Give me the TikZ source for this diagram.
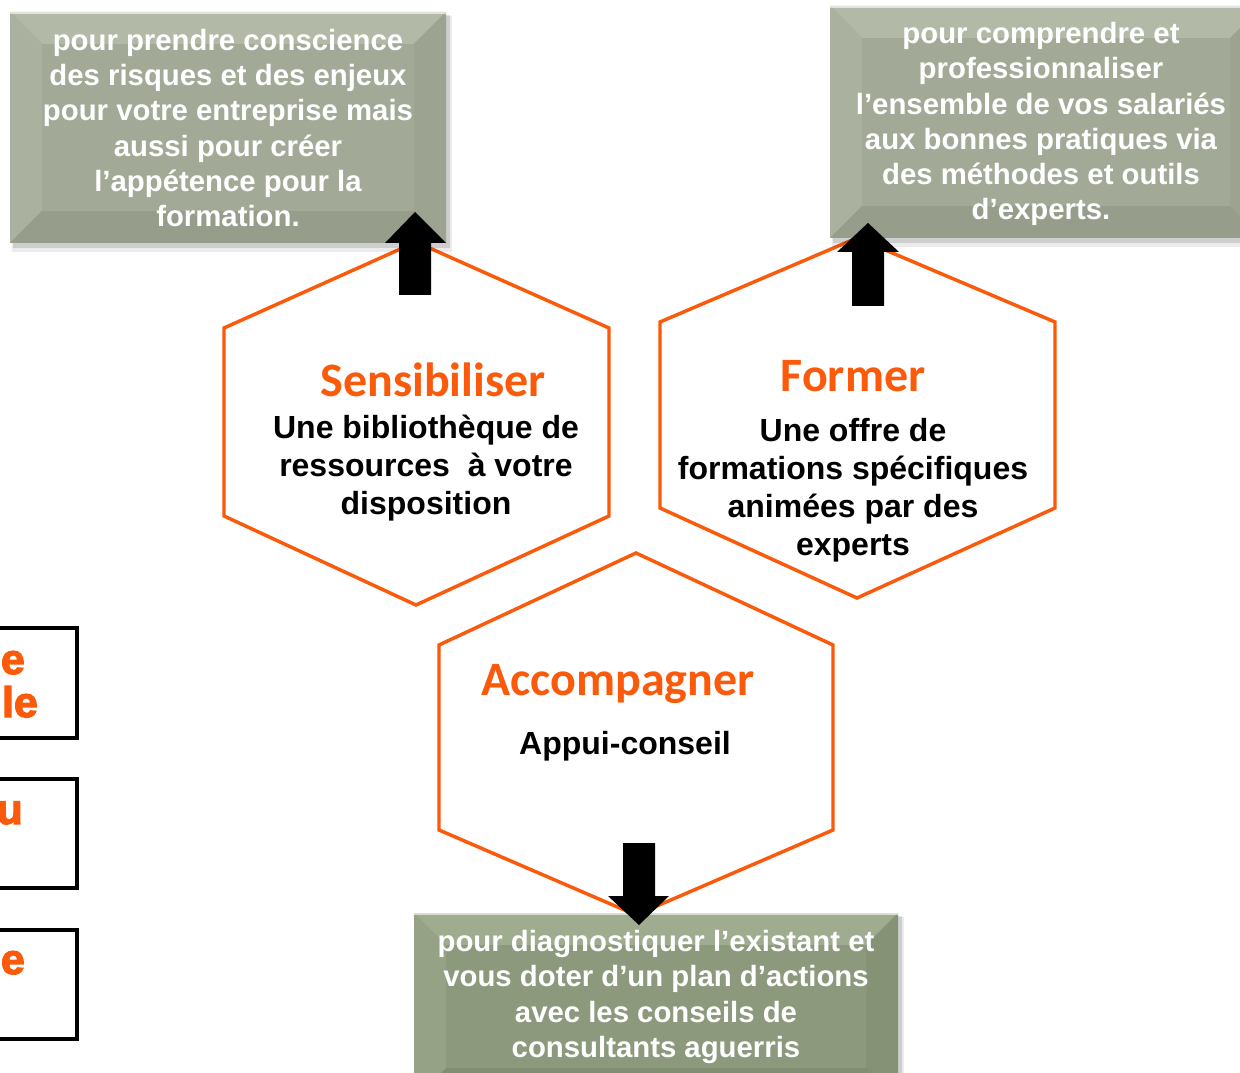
\documentclass[tikz,border=0pt]{standalone}
\usepackage{fontspec}
\setmainfont{Liberation Sans}
\newfontfamily\headfont{Carlito}
\newfontfamily\blackfont[FakeBold=3]{Liberation Sans Bold}
\definecolor{orng}{RGB}{250,90,10}
\definecolor{boxbase}{RGB}{162,170,151}
\definecolor{boxlight}{RGB}{178,186,167}
\definecolor{boxleft}{RGB}{170,178,159}
\definecolor{boxright}{RGB}{156,164,145}
\definecolor{boxdark}{RGB}{150,158,139}
\definecolor{bbase}{RGB}{141,153,125}
\definecolor{blight}{RGB}{160,172,144}
\definecolor{bleft}{RGB}{150,162,134}
\definecolor{bright}{RGB}{134,146,118}
\definecolor{bdark}{RGB}{130,142,114}
\usetikzlibrary{calc}
\tikzset{
  hexa/.style={draw=orng, line width=2.6pt, fill=white, line join=miter},
  head/.style={font=\headfont\bfseries\fontsize{36}{40}\selectfont, text=orng, inner sep=0pt},
  body/.style={font=\bfseries\fontsize{24}{28.5}\selectfont, align=center, inner sep=0pt},
  boxtext/.style={font=\bfseries\fontsize{22}{26.3}\selectfont, align=center, text=white, inner sep=0pt},
  sidebox/.style={draw=black, line width=2.6pt},
  sidetext/.style={font=\blackfont\fontsize{32}{36}\selectfont, text=orng, inner sep=0pt, anchor=base east},
  blockarrow/.style={fill=black},
}
\newcommand{\bevelbox}[9]{%
  % #1 x0, #2 y0, #3 x1, #4 y1, #5 base, #6 top, #7 left, #8 right, #9 bottom
  \fill[black, opacity=0.08] (#1+2,#2+4) rectangle (#3+6,#4+9);
  \fill[black, opacity=0.12] (#1+3,#2+3) rectangle (#3+4,#4+5);
  \fill[#5] (#1,#2) rectangle (#3,#4);
  \fill[#6] (#1,#2) -- (#3,#2) -- (#3-32,#2+32) -- (#1+32,#2+32) -- cycle;
  \fill[#7] (#1,#2) -- (#1+32,#2+32) -- (#1+32,#4-32) -- (#1,#4) -- cycle;
  \fill[#8] (#3,#2) -- (#3-32,#2+32) -- (#3-32,#4-32) -- (#3,#4) -- cycle;
  \fill[#9] (#1,#4) -- (#1+32,#4-32) -- (#3-32,#4-32) -- (#3,#4) -- cycle;
  \fill[#5] (#1+32,#2+32) rectangle (#3-32,#4-32);
  \draw[white, opacity=0.6, line width=1.2pt] (#1,#2+1) -- (#3,#2+1);
}
\begin{document}
\begin{tikzpicture}[x=0.75pt, y=-0.75pt]
\useasboundingbox (0,0) rectangle (1240,1073);
\clip (0,0) rectangle (1240,1073);
\fill[white] (0,0) rectangle (1240,1073);

% side boxes (cut off on the left)
\draw[sidebox] (-40,628) rectangle (77,738);
\draw[sidebox] (-40,779) rectangle (77,888);
\draw[sidebox] (-40,930) rectangle (77,1039);
\node[sidetext] (s1a) at (25,674) {e};
\node[sidetext] (s1b) at (38,717) {le};
\node[sidetext] (s2a) at (23,824) {u};
\node[sidetext] (s3a) at (25,974) {e};

% hexagons
\draw[hexa] (416,242) -- (609,328) -- (609,516) -- (416,605) -- (224,516) -- (224,328) -- cycle;
\draw[hexa] (857,238) -- (1055,322) -- (1055,508) -- (857,598) -- (660,508) -- (660,322) -- cycle;
\draw[hexa] (636,553) -- (833,645) -- (833,830) -- (636,915) -- (439,830) -- (439,645) -- cycle;

\node[head] (h1) at (433,380) {Sensibiliser};
\node[body] (b1) at (426,468) {Une bibliothèque de\\ressources \ à votre\\disposition};
\node[head] (h2) at (853,376) {Former};
\node[body] (b2) at (853,490) {Une offre de\\formations spécifiques\\animées par des\\experts};
\node[head] (h3) at (618,684) {Accompagner};
\node[body] (b3) at (625,746) {Appui-conseil};

% grey boxes
\bevelbox{10}{12}{446}{243}{boxbase}{boxlight}{boxleft}{boxright}{boxdark}
\bevelbox{830}{6}{1262}{238}{boxbase}{boxlight}{boxleft}{boxright}{boxdark}
\bevelbox{414}{913}{898}{1100}{bbase}{blight}{bleft}{bright}{bdark}

\node[boxtext] (t1) at (228,128) {pour prendre conscience\\des risques et des enjeux\\pour votre entreprise mais\\aussi pour créer\\l’appétence pour la\\formation.};
\node[boxtext] (t2) at (1041,124) {pour comprendre et\\professionnaliser\\l’ensemble de vos salariés\\aux bonnes pratiques via\\des méthodes et outils\\d’experts.};
\node[boxtext] (t3) at (656,997) {pour diagnostiquer l’existant et\\vous doter d’un plan d’actions\\avec les conseils de\\consultants aguerris};

% block arrows
\fill[blockarrow] (399,295) -- (399,243) -- (385,243) -- (415,212) -- (446,243) -- (431,243) -- (431,295) -- cycle;
\fill[blockarrow] (852,306) -- (852,252) -- (837,252) -- (868,223) -- (899,252) -- (884,252) -- (884,306) -- cycle;
\fill[blockarrow] (623,843) -- (623,896) -- (608,896) -- (639,925) -- (669,896) -- (655,896) -- (655,843) -- cycle;
\end{tikzpicture}
\end{document}
